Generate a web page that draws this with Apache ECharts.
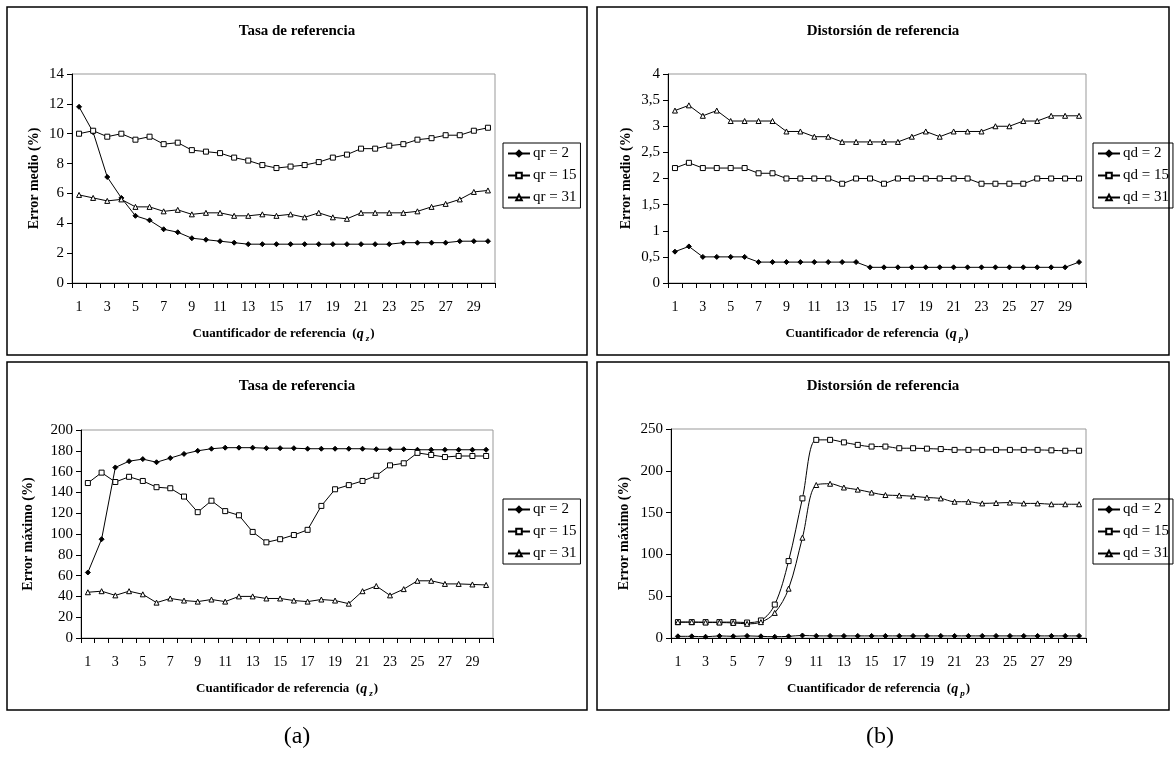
<!DOCTYPE html>
<html>
<head>
<meta charset="utf-8">
<script src="https://cdn.jsdelivr.net/npm/echarts@6/dist/echarts.min.js"></script>
<style>
html,body{margin:0;padding:0;background:#fff;}
#c{width:1176px;height:760px;}
</style>
</head>
<body>
<div id="c"></div>
<script>
// ---------- data ----------
const categories = ['1','2','3','4','5','6','7','8','9','10','11','12','13','14','15','16','17','18','19','20','21','22','23','24','25','26','27','28','29','30'];

// (a) top: Tasa de referencia - Error medio (%)
const tasaMedio_qr2  = [11.8,10.1,7.1,5.7,4.5,4.2,3.6,3.4,3.0,2.9,2.8,2.7,2.6,2.6,2.6,2.6,2.6,2.6,2.6,2.6,2.6,2.6,2.6,2.7,2.7,2.7,2.7,2.8,2.8,2.8];
const tasaMedio_qr15 = [10.0,10.2,9.8,10.0,9.6,9.8,9.3,9.4,8.9,8.8,8.7,8.4,8.2,7.9,7.7,7.8,7.9,8.1,8.4,8.6,9.0,9.0,9.2,9.3,9.6,9.7,9.9,9.9,10.2,10.4];
const tasaMedio_qr31 = [5.9,5.7,5.5,5.6,5.1,5.1,4.8,4.9,4.6,4.7,4.7,4.5,4.5,4.6,4.5,4.6,4.4,4.7,4.4,4.3,4.7,4.7,4.7,4.7,4.8,5.1,5.3,5.6,6.1,6.2];

// (b) top: Distorsión de referencia - Error medio (%)
const distMedio_qd2  = [0.6,0.7,0.5,0.5,0.5,0.5,0.4,0.4,0.4,0.4,0.4,0.4,0.4,0.4,0.3,0.3,0.3,0.3,0.3,0.3,0.3,0.3,0.3,0.3,0.3,0.3,0.3,0.3,0.3,0.4];
const distMedio_qd15 = [2.2,2.3,2.2,2.2,2.2,2.2,2.1,2.1,2.0,2.0,2.0,2.0,1.9,2.0,2.0,1.9,2.0,2.0,2.0,2.0,2.0,2.0,1.9,1.9,1.9,1.9,2.0,2.0,2.0,2.0];
const distMedio_qd31 = [3.3,3.4,3.2,3.3,3.1,3.1,3.1,3.1,2.9,2.9,2.8,2.8,2.7,2.7,2.7,2.7,2.7,2.8,2.9,2.8,2.9,2.9,2.9,3.0,3.0,3.1,3.1,3.2,3.2,3.2];

// (a) bottom: Tasa de referencia - Error máximo (%)
const tasaMax_qr2  = [63,95,164,170,172,169,173,177,180,182,183,183,183,182.5,182.5,182.5,182,182,182,182,182,181.5,181.5,181.5,181,181,181,181,181,181];
const tasaMax_qr15 = [149,159,150,155,151,145,144,136,121,132,122,118,102,92,95,99,104,127,143,147,151,156,166,168,178,176,174,175,175,175];
const tasaMax_qr31 = [44,45,41,45,42,34,38,36,35,37,35,40,40,38,38,36,35,37,36,33,45,50,41,47,55,55,52,52,51.5,51];

// (b) bottom: Distorsión de referencia - Error máximo (%)
const distMax_qd2  = [2,2,1.5,2.5,2,2.5,2,1.5,2,3,2.5,2.5,2.5,2.5,2.5,2.5,2.5,2.5,2.5,2.5,2.5,2.5,2.5,2.5,2.5,2.5,2.5,2.5,2.5,2.5];
const distMax_qd15 = [19,19,19,19,19,18.5,21,40,92,167,237,237,234,231,229,229,227,227,226.5,226,225,225,225,225,225,225,225,224.5,224,224];
const distMax_qd31 = [19,19,18.5,18.5,18,17,19,30,59,120,183,184.5,180,177.5,174,171,170.5,169.5,168,167,163,163,161,161.5,162,161,161,160,160,160];

const legendA = ['qr = 2','qr = 15','qr = 31'];
const legendB = ['qd = 2','qd = 15','qd = 31'];

// ---------- style ----------
const SERIF = '"Liberation Serif", "Times New Roman", serif';
const chart = echarts.init(document.getElementById('c'));

const grids = [
  {left:72,  top:74,  width:423, height:209},
  {left:668, top:74,  width:418, height:209},
  {left:81,  top:430, width:412, height:208},
  {left:671, top:429, width:415, height:209}
].map(g => Object.assign({show:true, borderColor:'#999', borderWidth:1, backgroundColor:'transparent'}, g));

function xAxis(i, sub){
  return {
    type:'category', gridIndex:i, data:categories, boundaryGap:true,
    axisLine:{lineStyle:{color:'#000', width:1}},
    axisTick:{show:true, interval:0, length:5, lineStyle:{color:'#000'}},
    axisLabel:{interval:1, color:'#000', fontFamily:SERIF, fontSize:14, margin:17},
    splitLine:{show:false},
    name:'Cuantificador de referencia  ({q|q}{s|' + sub + '})',
    nameLocation:'middle', nameGap:42,
    nameTextStyle:{color:'#000', fontFamily:SERIF, fontWeight:'bold', fontSize:13,
      rich:{
        q:{fontFamily:SERIF, fontWeight:'bold', fontStyle:'italic', fontSize:14, color:'#000'},
        s:{fontFamily:SERIF, fontWeight:'bold', fontStyle:'italic', fontSize:9, color:'#000', padding:[9,1,0,2]}
      }}
  };
}
function yAxis(i, max, interval, name, gap, comma){
  return {
    type:'value', gridIndex:i, min:0, max:max, interval:interval,
    axisLine:{show:true, lineStyle:{color:'#000', width:1}},
    axisTick:{show:true, length:5, lineStyle:{color:'#000'}},
    axisLabel:{color:'#000', fontFamily:SERIF, fontSize:15, margin:8,
      formatter: v => comma ? String(v).replace('.', ',') : String(v)},
    splitLine:{show:false},
    name:name, nameLocation:'middle', nameGap:gap, nameRotate:90,
    nameTextStyle:{color:'#000', fontFamily:SERIF, fontWeight:'bold', fontSize:14}
  };
}

const markers = [
  {symbol:'diamond',  symbolSize:5, itemStyle:{color:'#000', borderColor:'#000', borderWidth:1}},
  {symbol:'rect',     symbolSize:5, itemStyle:{color:'#fff', borderColor:'#000', borderWidth:1}},
  {symbol:'triangle', symbolSize:5, itemStyle:{color:'#fff', borderColor:'#000', borderWidth:1}}
];

function mk(name, data, i, k, smooth){
  return Object.assign({
    type:'line', name:name, data:data, xAxisIndex:i, yAxisIndex:i,
    showSymbol:true, smooth: smooth ? 0.35 : false,
    lineStyle:{color:'#000', width:1},
    emphasis:{disabled:true}, animation:false
  }, markers[k]);
}

function legend(names, left, top){
  return {
    data:names.map(n => ({name:n})), orient:'vertical', left:left, top:top,
    borderColor:'#000', borderWidth:1, padding:[3,4,3,4], itemGap:7,
    itemWidth:22, itemHeight:7, selectedMode:false,
    textStyle:{color:'#000', fontFamily:SERIF, fontSize:15, padding:[0,0,0,-2]}
  };
}
// separate legend per panel: distinct series names (zero-width suffix)
const zw = ['', '\u200B', '\u200B\u200B', '\u200B\u200B\u200B'];
const nA0 = legendA.map(n => n + zw[0]);
const nB1 = legendB.map(n => n + zw[1]);
const nA2 = legendA.map(n => n + zw[2]);
const nB3 = legendB.map(n => n + zw[3]);

function panelRect(x, y, w, h){
  return {type:'rect', shape:{x:x, y:y, width:w, height:h}, style:{fill:null, stroke:'#000', lineWidth:1.5}, silent:true};
}
function titleText(txt, cx, y){
  return {type:'text', x:cx, y:y, style:{text:txt, fill:'#000', font:'bold 15px ' + SERIF, textAlign:'center', textVerticalAlign:'middle'}, silent:true};
}

const option = {
  animation:false,
  backgroundColor:'#fff',
  grid:grids,
  xAxis:[xAxis(0,'z'), xAxis(1,'p'), xAxis(2,'z'), xAxis(3,'p')],
  yAxis:[
    yAxis(0,14,2,'Error medio (%)',31,false),
    yAxis(1,4,0.5,'Error medio (%)',35,true),
    yAxis(2,200,20,'Error máximo (%)',46,false),
    yAxis(3,250,50,'Error máximo (%)',40,false)
  ],
  legend:[
    legend(nA0, 503, 143),
    legend(nB1, 1093, 143),
    legend(nA2, 503, 499),
    legend(nB3, 1093, 499)
  ],
  series:[
    mk(nA0[0], tasaMedio_qr2, 0, 0), mk(nA0[1], tasaMedio_qr15, 0, 1), mk(nA0[2], tasaMedio_qr31, 0, 2),
    mk(nB1[0], distMedio_qd2, 1, 0), mk(nB1[1], distMedio_qd15, 1, 1), mk(nB1[2], distMedio_qd31, 1, 2),
    mk(nA2[0], tasaMax_qr2, 2, 0), mk(nA2[1], tasaMax_qr15, 2, 1), mk(nA2[2], tasaMax_qr31, 2, 2),
    mk(nB3[0], distMax_qd2, 3, 0, true), mk(nB3[1], distMax_qd15, 3, 1, true), mk(nB3[2], distMax_qd31, 3, 2, true)
  ],
  graphic:[
    panelRect(7, 7, 580, 348),
    panelRect(597, 7, 572, 348),
    panelRect(7, 362, 580, 348),
    panelRect(597, 362, 572, 348),
    titleText('Tasa de referencia', 297, 31),
    titleText('Distorsión de referencia', 883, 31),
    titleText('Tasa de referencia', 297, 386),
    titleText('Distorsión de referencia', 883, 386),
    {type:'text', x:297, y:737, style:{text:'(a)', fill:'#000', font:'24px ' + SERIF, textAlign:'center', textVerticalAlign:'middle'}, silent:true},
    {type:'text', x:880, y:737, style:{text:'(b)', fill:'#000', font:'24px ' + SERIF, textAlign:'center', textVerticalAlign:'middle'}, silent:true}
  ]
};
chart.setOption(option);
</script>
</body>
</html>
